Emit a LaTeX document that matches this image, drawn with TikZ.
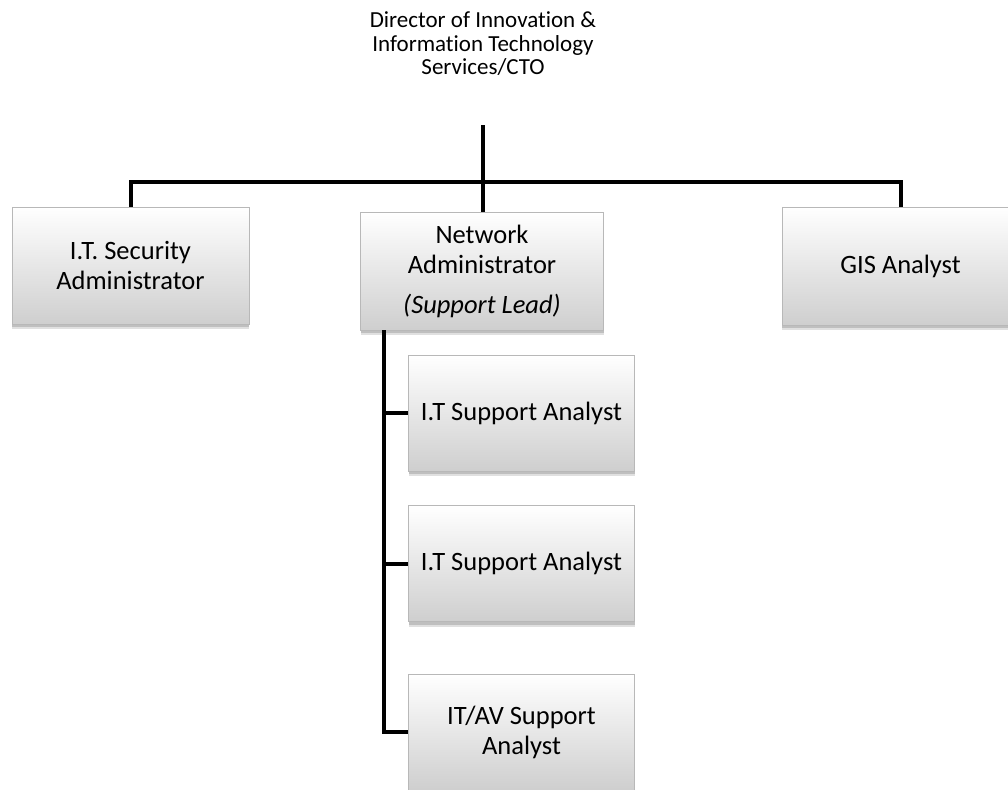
\documentclass[tikz,border=0pt]{standalone}
\usepackage{fontspec}
\setmainfont{Carlito}[Ligatures=NoCommon]
\usetikzlibrary{shadows}
\begin{document}
\begin{tikzpicture}[x=1pt,y=-1pt,
  box/.style={rectangle, minimum width=237pt, minimum height=117pt, inner sep=0pt,
    align=center, font=\fontsize{26.5}{30}\selectfont,
    top color=white, bottom color=black!19, draw=black!28, line width=0.8pt,
    drop shadow={shadow xshift=0pt, shadow yshift=-5pt, opacity=0.12, fill=black},
    drop shadow={shadow xshift=0pt, shadow yshift=-3pt, opacity=0.15, fill=black}},
  subbox/.style={box, minimum width=226pt, minimum height=116pt},
  conn/.style={line width=4pt, line join=miter},
  titletext/.style={align=center, font=\fontsize{23}{23.5}\selectfont, inner sep=0pt}]
\useasboundingbox (0,0) rectangle (1008,789);
\clip (0,0) rectangle (1008,789);

% title
\node[titletext] (dir) at (483,44) {Director of Innovation \&\\Information Technology\\Services/CTO};

% boxes
\node[box] (sec) at (130.5,265.5) {I.T. Security\\Administrator};
\node[box, minimum width=243pt, minimum height=118pt] (net) at (482,271) {Network\\Administrator\\[10pt]\textit{(Support Lead)}};
\node[box, minimum height=118pt] (gis) at (900.5,266) {GIS Analyst};
\node[subbox] (s1) at (521.5,413) {I.T Support Analyst};
\node[subbox] (s2) at (521.5,563.5) {I.T Support Analyst};
\node[subbox] (s3) at (521.5,732) {IT/AV Support\\Analyst};

% connectors
\coordinate (top) at (483,125);
\coordinate (bar) at (483,182);
\coordinate (spine) at (384,330);
\draw[conn] (top) -- (bar);
\draw[conn] (sec.north) -- (sec.north |- bar) -| (gis.north);
\draw[conn] (net.north -| bar) -- (bar);
\draw[conn] (spine) |- (s3.west);
\draw[conn] (s1.west -| spine) -- (s1.west);
\draw[conn] (s2.west -| spine) -- (s2.west);
\end{tikzpicture}
\end{document}
